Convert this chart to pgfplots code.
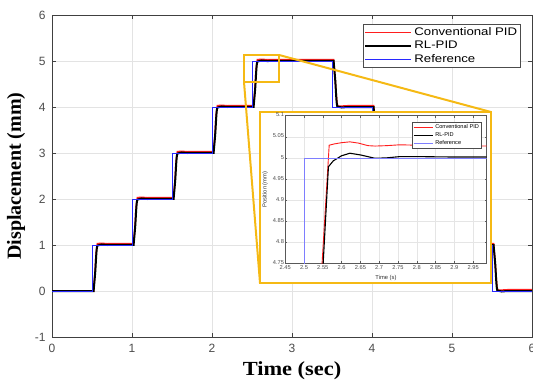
\documentclass[border=0pt]{standalone}
\usepackage{pgfplots}
\pgfplotsset{compat=1.18}
\usepackage{fontspec}
\setmainfont{Liberation Sans}
\newfontfamily\tnr{Liberation Serif}
\definecolor{myyellow}{RGB}{245,185,20}
\definecolor{myblue}{RGB}{40,40,255}
\definecolor{myred}{RGB}{255,30,30}
\begin{document}
\begin{tikzpicture}
\useasboundingbox (0pt,0pt) rectangle (533pt,383pt);
\begin{axis}[
 at={(52pt,46pt)}, anchor=south west,
 scale only axis, width=480pt, height=322pt,
 xmin=0,xmax=6,ymin=-1,ymax=6,
 xtick={0,1,2,3,4,5,6}, ytick={-1,0,1,2,3,4,5,6},
 grid=major, grid style={gray!22, line width=0.5pt},
 axis line style={black!75, line width=0.7pt},
 tick style={black!75, line width=0.6pt},
 major tick length=4pt,
 tick align=inside,
 ticklabel style={font=\fontsize{12}{13}\selectfont, text=black!70},
 xticklabel style={yshift=-4pt},
 yticklabel style={xshift=-3pt},
 /pgf/number format/assume math mode=true,
 xlabel={\scalebox{1.12}[1]{\tnr\bfseries Time (sec)}},
 ylabel={\tnr\bfseries Displacement (mm)},
 label style={font=\fontsize{20}{22}\selectfont},
 xlabel style={at={(axis description cs:0.5,0)}, anchor=base, yshift=-38pt},
 ylabel style={at={(axis description cs:-0.075,0.5)}, anchor=center},
 legend cell align=left,
 legend style={at={(0.977,0.972)}, anchor=north east, draw=black!70, line width=0.6pt,
   font=\fontsize{11}{12}\selectfont, inner sep=1.5pt, row sep=0pt},
 legend image code/.code={\draw[#1] (0pt,0pt) -- (46pt,0pt);},
]
\addplot[myred, line width=1.5pt] coordinates {
(0,0)(0.52,0)(0.54,0.45)(0.548,0.75)(0.558,0.92)(0.567,1.03)(0.622,1.038)(0.69,1.027)(0.77,1.031)(1.0,1.028)
(1.02,1.028)(1.04,1.45)(1.048,1.75)(1.058,1.92)(1.067,2.03)(1.122,2.038)(1.19,2.027)(1.27,2.031)(1.5,2.028)
(1.52,2.028)(1.54,2.45)(1.548,2.75)(1.558,2.92)(1.567,3.03)(1.622,3.038)(1.69,3.027)(1.77,3.031)(2.0,3.028)
(2.02,3.028)(2.04,3.45)(2.048,3.75)(2.058,3.92)(2.067,4.03)(2.122,4.038)(2.19,4.027)(2.27,4.031)(2.5,4.028)
(2.52,4.028)(2.54,4.45)(2.548,4.75)(2.558,4.92)(2.567,5.03)(2.622,5.038)(2.689,5.028)(2.755,5.032)(3.0,5.029)(3.5,5.029)
(3.52,5.029)(3.54,4.6)(3.552,4.3)(3.562,4.1)(3.572,4.015)(3.622,4.02)(3.7,4.028)(4.0,4.028)
(4.02,4.028)(4.04,3.6)(4.052,3.3)(4.062,3.1)(4.072,3.015)(4.122,3.02)(4.2,3.028)(4.5,3.028)
(4.52,3.028)(4.54,2.6)(4.552,2.3)(4.562,2.1)(4.572,2.015)(4.622,2.02)(4.7,2.028)(5.0,2.028)
(5.02,2.028)(5.04,1.6)(5.052,1.3)(5.062,1.1)(5.072,1.015)(5.122,1.02)(5.2,1.028)(5.5,1.028)
(5.52,1.028)(5.54,0.6)(5.552,0.3)(5.562,0.1)(5.572,0.015)(5.622,0.02)(5.7,0.028)(6,0.028)
};
\addlegendentry{\scalebox{1.2}[1]{Conventional PID}}
\addplot[black, line width=2pt] coordinates {
(0,0)(0.52,0)(0.54,0.4)(0.552,0.75)(0.558,0.9)(0.565,0.979)(0.578,0.993)(0.622,1.011)(0.69,1.0)(0.8,1.003)(1.0,1.002)
(1.02,1.002)(1.04,1.4)(1.052,1.75)(1.058,1.9)(1.065,1.979)(1.078,1.993)(1.122,2.011)(1.19,2.0)(1.3,2.003)(1.5,2.002)
(1.52,2.002)(1.54,2.4)(1.552,2.75)(1.558,2.9)(1.565,2.979)(1.578,2.993)(1.622,3.011)(1.69,3.0)(1.8,3.003)(2.0,3.002)
(2.02,3.002)(2.04,3.4)(2.052,3.75)(2.058,3.9)(2.065,3.979)(2.078,3.993)(2.122,4.011)(2.19,4.0)(2.3,4.003)(2.5,4.002)
(2.52,4.002)(2.54,4.4)(2.552,4.75)(2.558,4.9)(2.565,4.979)(2.578,4.993)(2.622,5.011)(2.69,4.999)(2.755,5.003)(3.0,5.002)(3.5,5.002)
(3.52,5.002)(3.54,4.6)(3.552,4.25)(3.558,4.1)(3.565,4.021)(3.578,4.007)(3.622,3.989)(3.69,4.0)(3.8,3.997)(4.0,3.997)
(4.02,3.997)(4.04,3.6)(4.052,3.25)(4.058,3.1)(4.065,3.021)(4.078,3.007)(4.122,2.989)(4.19,3.0)(4.3,2.997)(4.5,2.997)
(4.52,2.997)(4.54,2.6)(4.552,2.25)(4.558,2.1)(4.565,2.021)(4.578,2.007)(4.622,1.989)(4.69,2.0)(4.8,1.997)(5.0,1.997)
(5.02,1.997)(5.04,1.6)(5.052,1.25)(5.058,1.1)(5.065,1.021)(5.078,1.007)(5.122,0.989)(5.19,1.0)(5.3,0.997)(5.5,0.997)
(5.52,0.997)(5.54,0.6)(5.552,0.25)(5.558,0.1)(5.565,0.021)(5.578,0.007)(5.622,-0.011)(5.69,0)(5.8,-0.003)(6,-0.002)
};
\addlegendentry{\scalebox{1.2}[1]{RL-PID}}
\addplot[myblue, line width=0.8pt, const plot] coordinates {
(0,0)(0.5,1)(1,2)(1.5,3)(2,4)(2.5,5)(3.5,4)(4,3)(4.5,2)(5,1)(5.5,0)(6,0)
};
\addlegendentry{\scalebox{1.2}[1]{Reference}}
\draw[myyellow, line width=2pt] (axis cs:2.4,4.545) rectangle (axis cs:2.84,5.13);
\coordinate (zTR) at (axis cs:2.84,5.13);
\coordinate (zBL) at (axis cs:2.4,4.545);
\end{axis}
\draw[myyellow, line width=2pt] (zTR) -- (491pt,271pt);
\draw[myyellow, line width=2pt] (zBL) -- (260pt,100pt);
\draw[myyellow, line width=2.5pt, fill=white] (260pt,100pt) rectangle (491pt,271pt);
\begin{axis}[
 at={(285.2pt,119.7pt)}, anchor=south west,
 scale only axis, width=201.5pt, height=147.6pt,
 xmin=2.45, xmax=2.986, ymin=4.75, ymax=5.1,
 xtick={2.45,2.5,2.55,2.6,2.65,2.7,2.75,2.8,2.85,2.9,2.95},
 ytick={4.75,4.8,4.85,4.9,4.95,5,5.05,5.1},
 /pgf/number format/fixed,
 /pgf/number format/assume math mode=true,
 grid=major, grid style={gray!20, line width=0.4pt},
 axis line style={black!65, line width=0.5pt},
 tick style={black!65, line width=0.4pt},
 major tick length=2pt, tick align=inside,
 ticklabel style={font=\fontsize{5.7}{6.5}\selectfont, text=black!70, inner sep=1pt},
 xticklabel style={yshift=-0.8pt},
 yticklabel style={yshift=0.8pt},
 xlabel={Time (s)}, ylabel={Position (mm)},
 label style={font=\fontsize{5.8}{6.5}\selectfont, text=black!80},
 xlabel style={at={(axis description cs:0.5,-0.1)}, anchor=center},
 ylabel style={at={(axis description cs:-0.1,0.5)}, anchor=center},
 legend cell align=left,
 legend style={at={(0.975,0.959)}, anchor=north east, draw=black!70, line width=0.4pt,
   font=\fontsize{5.6}{6}\selectfont, inner sep=0.6pt, row sep=-1.5pt},
 legend image code/.code={\draw[#1] (0pt,0pt) -- (19pt,0pt);},
]
\addplot[myred, line width=0.9pt] coordinates {
(2.54,4.63)(2.567,5.03)(2.58,5.033)(2.6,5.036)(2.622,5.038)(2.645,5.035)(2.67,5.029)(2.689,5.028)(2.72,5.029)(2.755,5.031)(2.8,5.030)(2.85,5.029)(2.9,5.029)(2.99,5.028)
};
\addlegendentry{Conventional PID}
\addplot[black, line width=1.1pt] coordinates {
(2.54,4.57)(2.551,4.75)(2.565,4.979)(2.578,4.993)(2.6,5.005)(2.622,5.011)(2.65,5.007)(2.689,4.999)(2.72,5.0)(2.755,5.003)(2.8,5.003)(2.9,5.002)(2.99,5.002)
};
\addlegendentry{RL-PID}
\addplot[myblue!60, line width=0.6pt, const plot] coordinates {
(2.45,4)(2.5,5)(2.99,5)
};
\addlegendentry{Reference}
\end{axis}
\end{tikzpicture}
\end{document}
